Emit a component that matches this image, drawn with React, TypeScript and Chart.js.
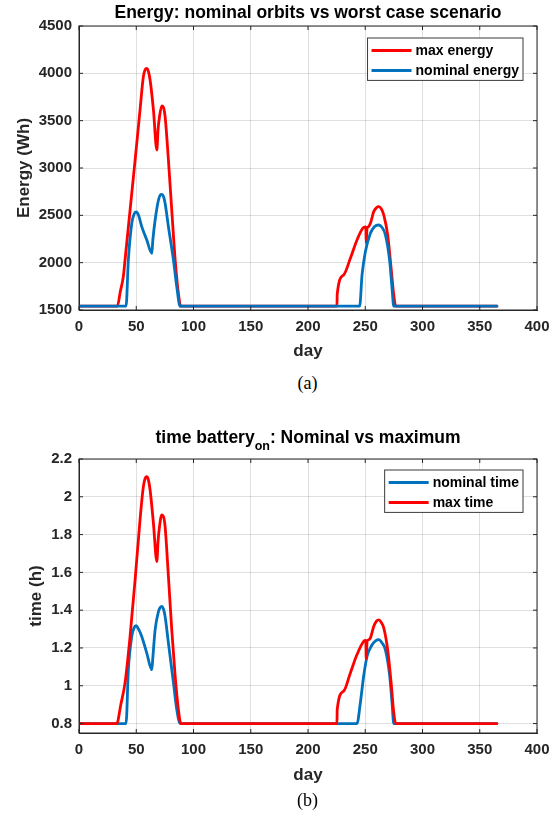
import React, { useEffect, useRef } from 'react';
import { Chart, registerables } from 'chart.js';

Chart.register(...registerables);

// axis ticks
const DAY_TICKS = [0, 50, 100, 150, 200, 250, 300, 350, 400];
const ENERGY_TICKS = [1500, 2000, 2500, 3000, 3500, 4000, 4500];
const TIME_TICKS = [0.8, 1, 1.2, 1.4, 1.6, 1.8, 2, 2.2];

// (a) energy, Wh
const maxEnergyDays = [1, 33.5, 36, 38.7, 40.2, 44.6, 49, 53.3, 56.2, 57.8, 59.2, 60.6, 62.1, 65, 68, 69, 70.3, 72.3, 73.8, 75.2, 78.1, 81, 84, 86.8, 88.9, 225.3, 225.5, 231.1, 237, 242.8, 248.6, 250.5, 250.8, 251.6, 252.1, 254.5, 257.4, 259.8, 261.8, 264, 266.2, 269.6, 272.6, 274.9, 276.6, 365];
const maxEnergyWh = [1540, 1540, 1690, 1852, 2028, 2556, 3084, 3613, 3965, 4040, 4053, 4020, 3930, 3613, 3190, 3400, 3542, 3655, 3640, 3542, 3084, 2556, 2028, 1676, 1540, 1540, 1666, 1870, 2046, 2240, 2373, 2378, 2204, 2370, 2373, 2416, 2539, 2580, 2591, 2570, 2503, 2292, 1940, 1658, 1540, 1540];
const nomEnergyDays = [1, 41.1, 43.1, 46.1, 48, 49.8, 52, 54.8, 59.2, 63.6, 64.5, 66.5, 69.4, 71, 72.3, 73.8, 75.2, 78.1, 82.5, 85.4, 88.3, 245.1, 247.2, 250.1, 254.5, 258, 261.8, 264.5, 267.6, 271.4, 273.4, 274.9, 365];
const nomEnergyWh = [1540, 1540, 2028, 2416, 2510, 2535, 2500, 2380, 2240, 2099, 2240, 2451, 2662, 2715, 2722, 2700, 2627, 2380, 2028, 1746, 1540, 1540, 1870, 2116, 2310, 2380, 2398, 2375, 2292, 2011, 1729, 1540, 1540];

// (b) battery on time, h
const nomTimeDays = [1, 41.1, 43.1, 46.1, 48, 49.8, 52, 54.8, 59.2, 63.6, 64.5, 66.5, 69.4, 71, 72.3, 73.8, 75.2, 78.1, 82.5, 85.4, 88.3, 242.8, 245.7, 248.6, 251.6, 256, 259, 261.8, 264.5, 267.6, 271.4, 273.4, 274.9, 365];
const nomTimeH = [0.8, 0.8, 1.085, 1.261, 1.305, 1.318, 1.3, 1.261, 1.173, 1.085, 1.15, 1.297, 1.393, 1.415, 1.42, 1.405, 1.367, 1.226, 1.015, 0.874, 0.8, 0.8, 0.909, 1.05, 1.156, 1.217, 1.238, 1.244, 1.228, 1.19, 1.05, 0.909, 0.8, 0.8];
const maxTimeDays = [1, 33, 36.5, 40.2, 44.6, 49, 53.3, 56.2, 57.8, 59.2, 60.6, 62.1, 65, 68, 69, 70.3, 72.3, 73.8, 75.2, 78.1, 81, 84, 86.8, 89, 225.3, 225.5, 231.1, 237, 242.8, 248.6, 250.5, 250.8, 251.6, 252.1, 254.5, 257.4, 259.8, 261.8, 264, 266.2, 269.6, 272.6, 274.9, 276.6, 365];
const maxTimeH = [0.8, 0.8, 0.9, 1.015, 1.261, 1.561, 1.878, 2.054, 2.098, 2.106, 2.09, 2.036, 1.86, 1.657, 1.76, 1.842, 1.904, 1.895, 1.842, 1.578, 1.297, 1.05, 0.874, 0.8, 0.8, 0.874, 0.971, 1.068, 1.165, 1.235, 1.24, 1.142, 1.235, 1.24, 1.253, 1.314, 1.342, 1.349, 1.335, 1.305, 1.19, 1.015, 0.857, 0.8, 0.8];

const BLUE = '#0072BD';
const RED = '#FF0000';
const AXIS_COLOR = '#262626';
const FONT = '"Liberation Sans", Arial, sans-serif';

type TitlePart = { text: string; sub?: boolean };

const toPoints = (xs: number[], ys: number[]) => xs.map((x, i) => ({ x, y: ys[i] }));

// box, inner ticks, legend and title the way MATLAB draws them
const matlabFrame = {
  id: 'matlabFrame',
  afterDraw(chart: any, _args: any, opts: any) {
    const { ctx, chartArea: a } = chart;
    const xs = chart.scales.x;
    const ys = chart.scales.y;
    ctx.save();

    ctx.strokeStyle = AXIS_COLOR;
    ctx.lineWidth = 1;
    ctx.strokeRect(a.left, a.top, a.right - a.left, a.bottom - a.top);

    ctx.beginPath();
    xs.ticks.forEach((t: any) => {
      const px = xs.getPixelForValue(t.value);
      ctx.moveTo(px, a.bottom);
      ctx.lineTo(px, a.bottom - 4);
      ctx.moveTo(px, a.top);
      ctx.lineTo(px, a.top + 4);
    });
    ys.ticks.forEach((t: any) => {
      const py = ys.getPixelForValue(t.value);
      ctx.moveTo(a.left, py);
      ctx.lineTo(a.left + 4, py);
      ctx.moveTo(a.right, py);
      ctx.lineTo(a.right - 4, py);
    });
    ctx.stroke();

    // legend
    const items = chart.data.datasets;
    ctx.font = `bold 14px ${FONT}`;
    const textW = Math.max(...items.map((d: any) => ctx.measureText(d.label).width));
    const w = 4 + 40 + 4 + textW + 4;
    const h = 12.4 + 20 * (items.length - 1) + 10;
    const x0 = a.right - opts.legendRight - w;
    const y0 = a.top + opts.legendTop;
    ctx.fillStyle = '#ffffff';
    ctx.fillRect(x0, y0, w, h);
    ctx.strokeStyle = '#3a3a3a';
    ctx.lineWidth = 1;
    ctx.strokeRect(x0, y0, w, h);
    items.forEach((d: any, i: number) => {
      const y = y0 + 12.4 + 20 * i;
      ctx.strokeStyle = d.borderColor;
      ctx.lineWidth = 3;
      ctx.beginPath();
      ctx.moveTo(x0 + 4, y);
      ctx.lineTo(x0 + 44, y);
      ctx.stroke();
      ctx.fillStyle = '#000000';
      ctx.textAlign = 'left';
      ctx.textBaseline = 'middle';
      ctx.fillText(d.label, x0 + 48, y + 1);
    });

    // title, with optional subscript
    const parts: TitlePart[] = opts.title;
    const mainFont = `bold 17.5px ${FONT}`;
    const subFont = `bold 12.5px ${FONT}`;
    const widths = parts.map((p) => {
      ctx.font = p.sub ? subFont : mainFont;
      return ctx.measureText(p.text).width;
    });
    const total = widths.reduce((s, v) => s + v, 0);
    let x = (a.left + a.right) / 2 - total / 2;
    ctx.fillStyle = '#000000';
    ctx.textAlign = 'left';
    ctx.textBaseline = 'alphabetic';
    parts.forEach((p, i) => {
      ctx.font = p.sub ? subFont : mainFont;
      ctx.fillText(p.text, x, opts.titleBaseline + (p.sub ? 7 : 0));
      x += widths[i];
    });

    ctx.restore();
  },
};

interface PanelProps {
  top: number;
  height: number;
  padTop: number;
  xAxisHeight: number;
  datasets: any[];
  yMin: number;
  yMax: number;
  yTicks: number[];
  yLabel: string;
  yLabelPad: number;
  title: TitlePart[];
  titleBaseline: number;
  legendTop: number;
}

const Panel: React.FC<PanelProps> = (p) => {
  const canvasRef = useRef<HTMLCanvasElement>(null);

  useEffect(() => {
    if (!canvasRef.current) return;
    const ctx = canvasRef.current.getContext('2d');
    if (!ctx) return;

    const tickFont = { family: FONT, size: 15, weight: 'bold' as const };
    const labelFont = { family: FONT, size: 17, weight: 'bold' as const };
    const grid = { color: 'rgba(38,38,38,0.15)', drawTicks: false };

    const chart = new Chart(ctx, {
      type: 'line',
      data: { datasets: p.datasets },
      plugins: [matlabFrame],
      options: {
        responsive: true,
        maintainAspectRatio: false,
        animation: false,
        events: [],
        layout: { padding: { top: p.padTop, right: 22, left: 0, bottom: 0 } },
        plugins: {
          legend: { display: false },
          tooltip: { enabled: false },
          matlabFrame: {
            title: p.title,
            titleBaseline: p.titleBaseline,
            legendRight: 14,
            legendTop: p.legendTop,
          },
        } as any,
        scales: {
          x: {
            type: 'linear',
            min: 0,
            max: 400,
            grid,
            border: { color: AXIS_COLOR, width: 1 },
            afterBuildTicks: (s: any) => {
              s.ticks = DAY_TICKS.map((v) => ({ value: v }));
            },
            afterFit: (s: any) => {
              s.height = p.xAxisHeight;
            },
            ticks: {
              font: tickFont,
              color: AXIS_COLOR,
              padding: 8,
              maxRotation: 0,
              autoSkip: false,
              callback: (v: any) => String(v),
            },
            title: {
              display: true,
              text: 'day',
              font: labelFont,
              color: AXIS_COLOR,
              padding: { top: 0, bottom: 8 },
            },
          },
          y: {
            type: 'linear',
            min: p.yMin,
            max: p.yMax,
            grid,
            border: { color: AXIS_COLOR, width: 1 },
            afterBuildTicks: (s: any) => {
              s.ticks = p.yTicks.map((v) => ({ value: v }));
            },
            afterFit: (s: any) => {
              s.width = 79;
            },
            ticks: {
              font: tickFont,
              color: AXIS_COLOR,
              padding: 7,
              autoSkip: false,
              callback: (v: any) => String(v),
            },
            title: {
              display: true,
              text: p.yLabel,
              font: labelFont,
              color: AXIS_COLOR,
              padding: { top: p.yLabelPad, bottom: 0 },
            },
          },
        },
      },
    });

    return () => {
      chart.destroy();
    };
  }, []);

  return (
    <div style={{ position: 'absolute', left: 0, top: p.top, width: 559, height: p.height }}>
      <canvas ref={canvasRef}></canvas>
    </div>
  );
};

const captionStyle: React.CSSProperties = {
  position: 'absolute',
  left: 0,
  width: 615,
  textAlign: 'center',
  fontFamily: '"Liberation Serif", "Times New Roman", serif',
  fontSize: 18,
  color: '#000',
  lineHeight: '20px',
};

const line = (label: string, xs: number[], ys: number[], color: string, order: number) => ({
  label,
  data: toPoints(xs, ys),
  borderColor: color,
  backgroundColor: color,
  borderWidth: 2.8,
  borderJoinStyle: 'round',
  borderCapStyle: 'round',
  cubicInterpolationMode: 'monotone',
  pointRadius: 0,
  fill: false,
  order,
});

const App: React.FC = () => {
  const energySets = [
    line('max energy', maxEnergyDays, maxEnergyWh, RED, 1),
    line('nominal energy', nomEnergyDays, nomEnergyWh, BLUE, 0),
  ];
  const timeSets = [
    line('nominal time', nomTimeDays, nomTimeH, BLUE, 1),
    line('max time', maxTimeDays, maxTimeH, RED, 0),
  ];

  return (
    <div style={{ position: 'absolute', left: 0, top: 0, width: 559, height: 823, background: '#fff' }}>
      <Panel
        top={0}
        height={370}
        padTop={26}
        xAxisHeight={60}
        datasets={energySets}
        yMin={1500}
        yMax={4500}
        yTicks={ENERGY_TICKS}
        yLabel="Energy (Wh)"
        yLabelPad={14}
        title={[{ text: 'Energy: nominal orbits vs worst case scenario' }]}
        titleBaseline={18}
        legendTop={12}
      />
      <div style={{ ...captionStyle, top: 373 }}>(a)</div>
      <Panel
        top={420}
        height={374}
        padTop={39}
        xAxisHeight={61}
        datasets={timeSets}
        yMin={0.75}
        yMax={2.2}
        yTicks={TIME_TICKS}
        yLabel="time (h)"
        yLabelPad={26}
        title={[{ text: 'time battery' }, { text: 'on', sub: true }, { text: ': Nominal vs maximum' }]}
        titleBaseline={23}
        legendTop={11}
      />
      <div style={{ ...captionStyle, top: 790 }}>(b)</div>
    </div>
  );
};

export default App;
